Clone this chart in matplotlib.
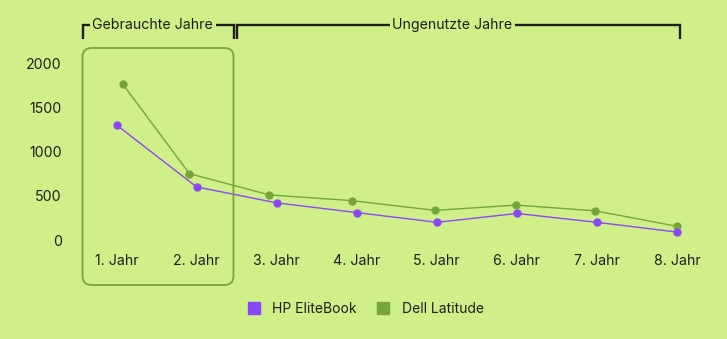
import matplotlib
matplotlib.use("Agg")
import matplotlib.pyplot as plt
from matplotlib.lines import Line2D
from matplotlib.patches import FancyBboxPatch
from matplotlib.transforms import IdentityTransform

years = ["1. Jahr", "2. Jahr", "3. Jahr", "4. Jahr", "5. Jahr", "6. Jahr", "7. Jahr", "8. Jahr"]
hp_elitebook = [1300, 600, 420, 310, 200, 300, 200, 90]
dell_latitude = [1760, 750, 510, 445, 335, 395, 330, 155]
# small horizontal shift of the Dell points seen in the picture (category units)
dell_shift = [0.08, -0.09, -0.09, -0.06, -0.02, -0.01, -0.02, 0.0]
y_ticks = [0, 500, 1000, 1500, 2000]
group_labels = ["Gebrauchte Jahre", "Ungenutzte Jahre"]

BG = "#cff088"
HP_C = "#8b46f6"
DELL_C = "#76a63a"
INK = "#1e1e1e"
W, H = 727, 339
FS = 10.2

plt.rcParams["font.family"] = ["Inter", "DejaVu Sans"]

fig = plt.figure(figsize=(W / 100, H / 100), dpi=100, facecolor=BG)


def px(x0, y0, x1, y1):
    # pixel box (top-left origin) -> figure fraction rect
    return [x0 / W, 1 - y1 / H, (x1 - x0) / W, (y1 - y0) / H]


ax = fig.add_axes(px(82, 40, 700, 248))
ax.set_facecolor("none")
for s in ax.spines.values():
    s.set_visible(False)

xs = list(range(len(years)))
ax.plot(xs, hp_elitebook, "-o", color=HP_C, lw=1.0, ms=5, zorder=3)
ax.plot([x + d for x, d in zip(xs, dell_shift)], dell_latitude, "-o",
        color=DELL_C, lw=1.0, ms=5, zorder=2)

ax.set_xlim(-0.431, 7.287)
ax.set_ylim(-90, 2260)
ax.set_xticks(xs, years)
ax.set_yticks(y_ticks, [str(v) for v in y_ticks])
ax.tick_params(length=0, labelsize=FS, labelcolor=INK)
ax.tick_params(axis="y", pad=14.5)
ax.tick_params(axis="x", pad=4.5)

# rounded box round the used years
fig.add_artist(FancyBboxPatch((82.5, H - 285), 151, 237,
                              boxstyle="round,pad=0,rounding_size=9",
                              transform=IdentityTransform(), fill=False,
                              ec=DELL_C, lw=1.3))

# brackets on top
def bracket(x0, x1, label, tx):
    yb, yt = H - 39, H - 25
    kw = dict(transform=IdentityTransform(), color=INK, lw=1.7,
              solid_joinstyle="miter", solid_capstyle="butt")
    t = fig.text(tx / W, 1 - 25 / H, label, ha="center", va="center",
                 fontsize=FS, color=INK)
    fig.canvas.draw()
    bb = t.get_window_extent()
    fig.add_artist(Line2D([x0, x0, bb.x0 - 2], [yb, yt, yt], **kw))
    fig.add_artist(Line2D([bb.x1 + 3, x1, x1], [yt, yt, yb], **kw))


bracket(82.5, 234, group_labels[0], 152.5)
bracket(237, 680, group_labels[1], 452)

handles = [Line2D([], [], ls="none", marker="s", ms=9, color=HP_C),
           Line2D([], [], ls="none", marker="s", ms=9, color=DELL_C)]
fig.legend(handles, ["HP EliteBook", "Dell Latitude"], loc="center",
           bbox_to_anchor=(362 / W, 1 - 309 / H), ncol=2, frameon=False,
           fontsize=10, handletextpad=0.3, columnspacing=0.9,
           labelcolor=INK)

fig.savefig("out.png", dpi=100, facecolor=BG)
